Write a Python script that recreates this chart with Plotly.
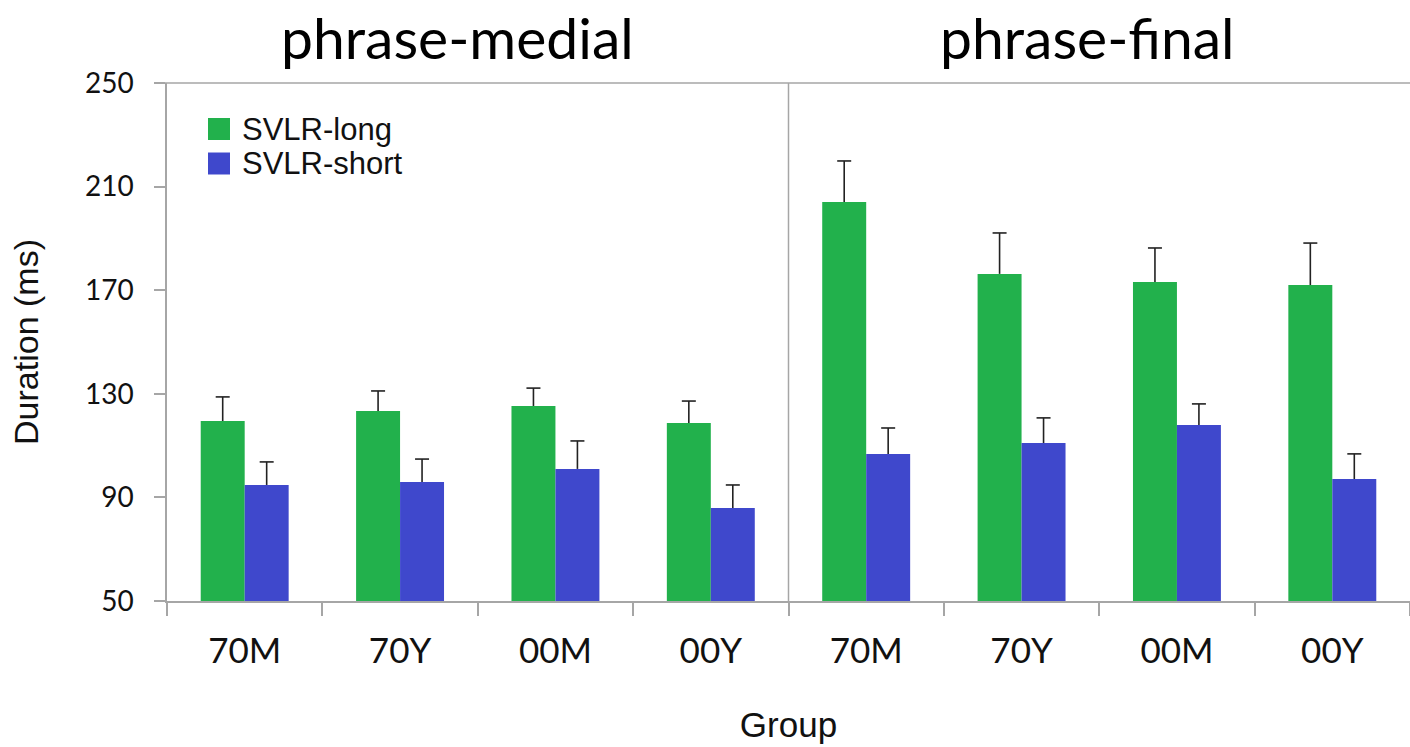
import plotly.graph_objects as go

# Groups within each phrase position
groups = ["70M", "70Y", "00M", "00Y"]
positions = ["phrase-medial", "phrase-final"]
tick_labels = groups + groups

# Mean durations (ms), medial groups followed by final groups
long_means = [119.5, 123.4, 125.3, 118.7, 204.1, 176.3, 173.2, 172.0]
short_means = [94.8, 95.9, 101.0, 85.9, 106.8, 111.0, 118.0, 97.1]
# Upper error bar extents (ms above the mean)
long_err = [9.3, 7.7, 6.9, 8.5, 15.8, 15.8, 13.1, 16.2]
short_err = [8.9, 8.9, 10.8, 8.9, 10.0, 9.7, 8.1, 9.7]

series_names = ["SVLR-long", "SVLR-short"]
colors = ["#22B14C", "#3F48CC"]

W, H = 1410, 747
L, R, T, B = 167, 0, 83, 146
pw, ph = W - L - R, H - T - B
BARGAP = 0.434
WHISKER = "#222222"


def px_x(p):
    return (p - L) / pw


def px_y(p):
    return (H - B - p) / ph


xs = list(range(len(tick_labels)))
# centre of each bar within its group (two bars side by side)
half = (1 - BARGAP) / 4

fig = go.Figure()
for k, (name, vals, errs, col) in enumerate([
    (series_names[0], long_means, long_err, colors[0]),
    (series_names[1], short_means, short_err, colors[1]),
]):
    fig.add_trace(go.Bar(
        x=xs, y=vals, name=name, marker=dict(color=col, line=dict(width=0)),
        showlegend=False,
    ))
    # upper-only whiskers with a cap at the top end
    shift = -half if k == 0 else half
    fig.add_trace(go.Scatter(
        x=[x + shift for x in xs], y=[v + e for v, e in zip(vals, errs)],
        mode="markers",
        marker=dict(symbol="line-ew-open", size=10, color=WHISKER,
                    line=dict(color=WHISKER, width=1.6)),
        error_y=dict(type="data", array=[0] * len(xs), arrayminus=errs, symmetric=False,
                     color=WHISKER, thickness=1.6, width=0),
        showlegend=False, hoverinfo="skip",
    ))

# invisible trace carrying the boundary tick axis
fig.add_trace(go.Scatter(x=[-0.5, 7.5], y=[50, 50], xaxis="x2", mode="markers",
                         marker=dict(opacity=0), showlegend=False, hoverinfo="skip"))

axis_grey = "#A6A6A6"
fig.update_layout(
    width=W, height=H,
    margin=dict(l=L, r=R, t=T, b=B, pad=0),
    paper_bgcolor="white", plot_bgcolor="white",
    barmode="group", bargap=BARGAP, bargroupgap=0,
    xaxis=dict(range=[-0.5, 7.5], tickvals=xs, ticktext=tick_labels,
               showline=True, linecolor=axis_grey, linewidth=1.5,
               ticks="", showgrid=False, zeroline=False,
               tickfont=dict(family="Lato", size=35, color="#111111"),
               ticklabelstandoff=18,
               title=dict(text="Group", font=dict(family="Liberation Sans", size=35, color="#111111"),
                          standoff=44)),
    xaxis2=dict(range=[-0.5, 7.5], overlaying="x", side="bottom",
                tickvals=[i + 0.5 for i in range(-1, 8)], showticklabels=False,
                ticks="outside", ticklen=14, tickwidth=1.5, tickcolor=axis_grey,
                showline=False, showgrid=False, zeroline=False),
    yaxis=dict(range=[50, 250], tickvals=[50, 90, 130, 170, 210, 250],
               showline=True, linecolor=axis_grey, linewidth=1.5,
               ticks="outside", ticklen=11, tickwidth=1.5, tickcolor=axis_grey,
               showgrid=False, zeroline=False,
               tickfont=dict(family="Lato", size=28, color="#111111"),
               ticklabelstandoff=15,
               title=dict(text="Duration (ms)", font=dict(family="Liberation Sans", size=34, color="#111111"),
                          standoff=36)),
    showlegend=False,
)

shapes = [
    # top frame line
    dict(type="line", xref="paper", yref="paper", x0=px_x(156), x1=1, y0=1, y1=1,
         line=dict(color=axis_grey, width=1.5)),
    # x axis line running past the y axis
    dict(type="line", xref="paper", yref="paper", x0=px_x(156), x1=0, y0=0, y1=0,
         line=dict(color=axis_grey, width=1.5)),
    # separator between phrase positions
    dict(type="line", xref="x", yref="y", x0=3.5, x1=3.5, y0=50, y1=250,
         line=dict(color=axis_grey, width=1.5)),
]

annotations = []
# legend keys
for i, (name, col) in enumerate(zip(series_names, colors)):
    cy = [129, 163.5][i]
    shapes.append(dict(type="rect", xref="paper", yref="paper",
                       x0=px_x(208), x1=px_x(230), y0=px_y(cy + 11), y1=px_y(cy - 11),
                       fillcolor=col, line=dict(width=0)))
    annotations.append(dict(text=name, xref="paper", yref="paper", x=px_x(240), y=px_y(cy),
                            xanchor="left", yanchor="middle", showarrow=False,
                            font=dict(family="Liberation Sans", size=31, color="#111111")))

# panel titles
for name, cx in zip(positions, [457, 1087]):
    annotations.append(dict(text=name, xref="paper", yref="paper", x=px_x(cx), y=px_y(1),
                            xanchor="center", yanchor="top", showarrow=False,
                            font=dict(family="Lato", size=57, color="#000000")))

fig.update_layout(shapes=shapes, annotations=annotations)
fig.write_html("out.html")
